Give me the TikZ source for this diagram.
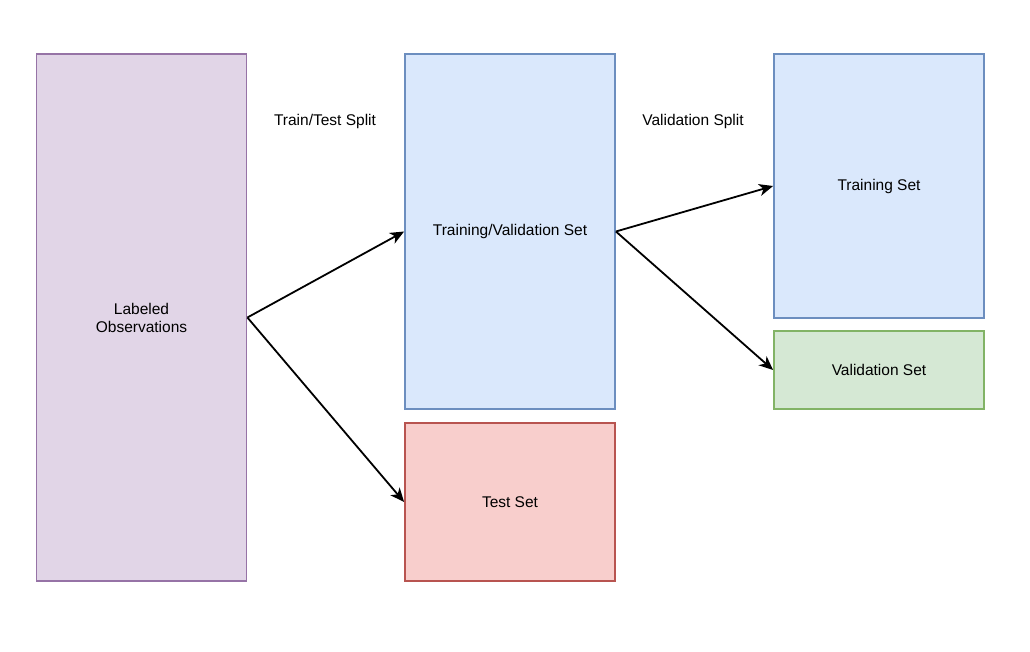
\documentclass[tikz,border=0pt]{standalone}
\usepackage{fontspec}
\setmainfont{Liberation Sans}
\usetikzlibrary{arrows.meta}
\definecolor{pfill}{HTML}{E1D5E7}\definecolor{pdraw}{HTML}{9673A6}
\definecolor{bfill}{HTML}{DAE8FC}\definecolor{bdraw}{HTML}{6C8EBF}
\definecolor{rfill}{HTML}{F8CECC}\definecolor{rdraw}{HTML}{B85450}
\definecolor{gfill}{HTML}{D5E8D4}\definecolor{gdraw}{HTML}{82B366}
\begin{document}
\begin{tikzpicture}[x=1pt,y=-1pt,
  box/.style={draw, line width=1.8pt, minimum width=210pt, inner sep=0pt, align=center, font=\fontsize{15.5}{18}\selectfont},
  lbl/.style={font=\fontsize{15.5}{18}\selectfont, inner sep=0pt},
  conn/.style={line width=1.8pt, -{Stealth[length=14pt,width=12pt,inset=4pt]}}]
\useasboundingbox (0,0) rectangle (1030,651);
\node[box, fill=pfill, draw=pdraw, minimum height=527pt] (lab) at (141.5,317.5) {Labeled\\Observations};
\node[box, fill=bfill, draw=bdraw, minimum height=355pt] (tv) at (510,231.5) {Training/Validation Set};
\node[box, fill=rfill, draw=rdraw, minimum height=158pt] (test) at (510,502) {Test Set};
\node[box, fill=bfill, draw=bdraw, minimum height=264pt] (tr) at (879,186) {Training Set};
\node[box, fill=gfill, draw=gdraw, minimum height=78pt] (val) at (879,370) {Validation Set};
\node[lbl] (l1) at (325,121) {Train/Test Split};
\node[lbl] (l2) at (693,121) {Validation Split};
\draw[conn] (lab.east) -- (tv.west);
\draw[conn] (lab.east) -- (test.west);
\draw[conn] (tv.east) -- (tr.west);
\draw[conn] (tv.east) -- (val.west);
\end{tikzpicture}
\end{document}
